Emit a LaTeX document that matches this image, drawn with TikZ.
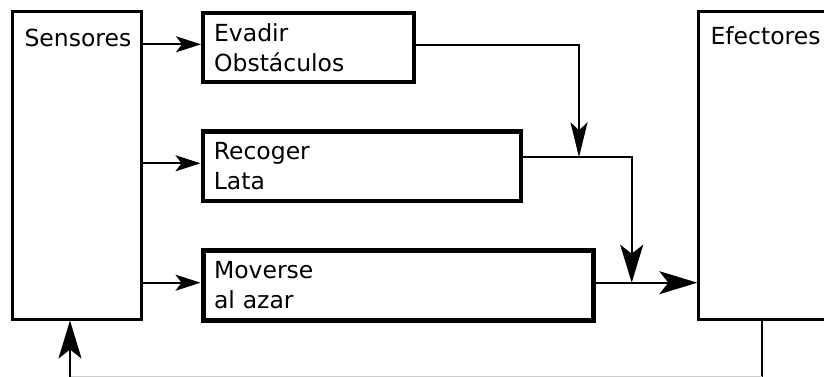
\documentclass[tikz,border=0pt]{standalone}
\usepackage{fontspec}
\setmainfont{DejaVu Sans}
\usetikzlibrary{arrows.meta}
\begin{document}
\begin{tikzpicture}[x=1pt,y=-1pt,
  every node/.style={font=\fontsize{23.5}{30}\selectfont},
  bigbox/.style={draw,line width=2.5pt,minimum width=#1,inner sep=0pt,anchor=north west},
  behav/.style={draw,line width=#1,inner xsep=11pt,inner ysep=0pt,align=left,anchor=north west},
  conn/.style={line width=2pt},
  small/.style={-{Stealth[length=25pt,width=16pt,inset=6pt]}},
  mid/.style={-{Stealth[length=35pt,width=17pt,inset=8pt]}},
  large/.style={-{Stealth[length=38pt,width=23pt,inset=9pt]}}
]
\useasboundingbox (0,0) rectangle (824,377);
\clip (0,0) rectangle (824,377);
% big boxes
\node[bigbox=129pt,minimum height=307.7pt] (sens) at (11,10.3) {};
\node[bigbox=160pt,minimum height=307.5pt] (efec) at (697.3,10.5) {};
\node[anchor=base west] (senslbl) at (21,47) {Sensores};
\node[anchor=base west] (efeclbl) at (707,44.5) {Efectores};
% behaviour boxes
\node[behav=4.2pt,text width=189pt,minimum height=68.7pt] (evad) at (201,11.3) {Evadir\\Obstáculos};
\node[behav=4.6pt,text width=296.2pt,minimum height=69.2pt] (reco) at (200.5,129.5) {Recoger\\Lata};
\node[behav=5pt,text width=368pt,minimum height=70pt] (move) at (200.5,248) {Moverse\\al azar};
% coordinates
\coordinate (j1) at (579,157.3);
\coordinate (j2) at (631.7,282.7);
\coordinate (fb1) at (762.3,376.5);
\coordinate (fb2) at (70,376.5);
% sensors to behaviours
\draw[conn,small] (sens.east |- 0,44.3) -- (evad.west |- 0,44.3);
\draw[conn,small] (sens.east |- 0,163.3) -- (reco.west |- 0,163.3);
\draw[conn,small] (sens.east |- 0,282.7) -- (move.west |- 0,282.7);
% subsumption
\draw[conn,mid] (evad.east |- 0,45) -| (j1);
\draw[conn,large] (reco.east |- j1) -| (j2);
\draw[conn] (move.east |- j2) -- (j2);
\draw[conn,large] (j2) -- (efec.west |- j2);
% feedback
\draw[conn] (efec.south -| fb1) -- (762.3,377);
\draw[gray!40,line width=1pt] (fb1) -- (fb2);
\draw[conn,large] (70,377) -- (sens.south -| fb2);
\end{tikzpicture}
\end{document}
